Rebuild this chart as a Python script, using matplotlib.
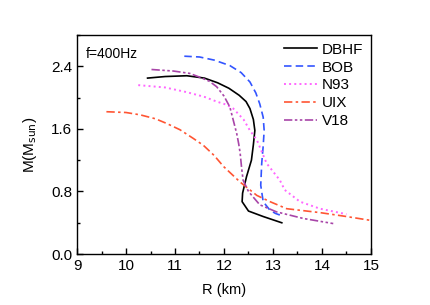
import numpy as np
import matplotlib.pyplot as plt
from matplotlib.ticker import MultipleLocator

plt.rcParams['font.family'] = ['Liberation Sans', 'DejaVu Sans']

# mass-radius curves, f=400Hz
r_dbhf = [10.44, 10.8, 11.24, 11.6, 11.87, 12.1, 12.31, 12.45, 12.53, 12.6, 12.63, 12.6, 12.56, 12.46, 12.38, 12.37, 12.5, 12.8, 13.18]
m_dbhf = [2.25, 2.27, 2.28, 2.25, 2.19, 2.12, 2.03, 1.95, 1.86, 1.72, 1.58, 1.40, 1.20, 0.99, 0.78, 0.67, 0.55, 0.48, 0.40]

r_bob = [11.19, 11.5, 11.8, 12.12, 12.35, 12.53, 12.65, 12.73, 12.8, 12.82, 12.8, 12.77, 12.75, 12.8, 12.94, 13.05, 13.18]
m_bob = [2.53, 2.52, 2.48, 2.41, 2.32, 2.20, 2.06, 1.92, 1.75, 1.58, 1.38, 1.16, 0.88, 0.67, 0.56, 0.52, 0.49]

r_n93 = [10.25, 10.8, 11.24, 11.6, 11.85, 12.05, 12.19, 12.4, 12.53, 12.67, 12.87, 13.14, 13.24, 13.55, 13.96, 14.5]
m_n93 = [2.16, 2.13, 2.07, 2.01, 1.95, 1.91, 1.86, 1.72, 1.58, 1.46, 1.16, 0.945, 0.82, 0.67, 0.58, 0.51]

r_uix = [9.6, 10.0, 10.29, 10.6, 10.83, 11.1, 11.37, 11.58, 11.8, 11.99, 12.33, 12.67, 12.94, 13.28, 13.96, 14.5, 15.0]
m_uix = [1.82, 1.81, 1.78, 1.73, 1.67, 1.59, 1.48, 1.39, 1.26, 1.12, 0.92, 0.75, 0.67, 0.58, 0.53, 0.48, 0.43]

r_v18 = [10.52, 10.97, 11.3, 11.51, 11.7, 11.85, 12.0, 12.12, 12.26, 12.3, 12.33, 12.36, 12.39, 12.5, 12.73, 13.07, 13.62, 14.23]
m_v18 = [2.36, 2.34, 2.31, 2.26, 2.21, 2.14, 2.02, 1.88, 1.54, 1.41, 1.29, 1.10, 0.945, 0.80, 0.63, 0.54, 0.455, 0.39]

fig = plt.figure(figsize=(4.31, 3.05), dpi=100)
ax = fig.add_axes([0.1787, 0.167, 0.682, 0.718])

ax.plot(r_dbhf, m_dbhf, '-', color='black', lw=1.2, label='DBHF')
ax.plot(r_bob, m_bob, '--', color='#3355ff', lw=1.2, dashes=(4.5, 2.5), label='BOB')
ax.plot(r_n93, m_n93, ':', color='#ff66ff', lw=1.4, label='N93')
ax.plot(r_uix, m_uix, '-.', color='#ff5533', lw=1.2, dashes=(5, 2, 1.5, 2), label='UIX')
ax.plot(r_v18, m_v18, color='#a845a8', lw=1.2, dashes=(5, 1.5, 1.5, 1.5, 1.5, 1.5), label='V18')

ax.set_xlim(9, 15)
ax.set_ylim(0, 2.8)
ax.xaxis.set_major_locator(MultipleLocator(1))
ax.xaxis.set_minor_locator(MultipleLocator(0.5))
ax.set_yticks([0.0, 0.8, 1.6, 2.4])
ax.set_yticklabels(['0.0', '0.8', '1.6', '2.4'])
ax.yaxis.set_minor_locator(MultipleLocator(0.4))
ax.tick_params(which='both', direction='in', labelsize=11, top=False, right=False)
ax.tick_params(which='major', length=4.5, width=1)
ax.tick_params(which='minor', length=2.5, width=1)
for s in ax.spines.values():
    s.set_linewidth(1.0)

ax.set_xlabel('R (km)', fontsize=10.5, labelpad=7)
ax.set_ylabel('M(M$_{\\mathrm{sun}}$)', fontsize=11, labelpad=9)
ax.text(0.03, 0.895, 'f=400Hz', transform=ax.transAxes, fontsize=10)

ax.legend(loc='upper right', frameon=False, fontsize=11,
          handlelength=2.2, labelspacing=0.25, handletextpad=0.3, borderaxespad=0.1)

plt.savefig('out.png', dpi=100)
